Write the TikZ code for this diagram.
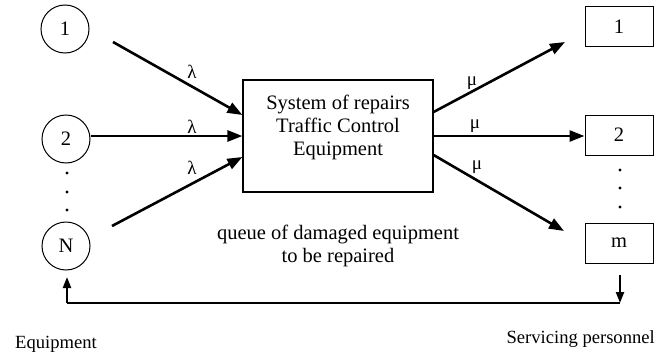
\documentclass[tikz,border=0pt]{standalone}
\usepackage{fontspec}
\setmainfont{Liberation Serif}
\usetikzlibrary{arrows.meta}
\begin{document}
\begin{tikzpicture}[x=1pt,y=-1pt,
  font=\fontsize{20.5}{23}\selectfont,
  source/.style={draw,circle,line width=1pt,minimum size=48pt,inner sep=0pt},
  server/.style={draw,rectangle,line width=1pt,minimum width=68pt,minimum height=40pt,inner sep=0pt},
  system/.style={draw,rectangle,line width=1.2pt,minimum width=190pt,minimum height=112pt,inner sep=0pt},
  flow/.style={line width=2.6pt,-{Triangle[length=15pt,width=11pt]}},
  back/.style={line width=1.6pt},
  backtip/.style={line width=2.2pt,-{Triangle[length=11pt,width=8pt]}},
  rate/.style={inner sep=0pt,font=\fontsize{19}{21}\selectfont},
  caption/.style={inner sep=0pt,font=\fontsize{18.6}{21}\selectfont},
  dot/.style={fill=black,circle,inner sep=0pt,minimum size=3.2pt}]
\useasboundingbox (0,0) rectangle (660,353);

% equipment units
\node[source] (c1) at (65,29) {1};
\node[source] (c2) at (66,139) {2};
\node[source] (cN) at (66,246) {N};
\node[dot] (l1) at (67,173) {};
\node[dot] (l2) at (67,192) {};
\node[dot] (l3) at (67,210) {};

% repair system
\node[system] (sys) at (338,136) {};
\node[align=center,inner sep=0pt] (systext) at (338,127)
  {System of repairs\\Traffic Control\\Equipment};
\node[align=center,inner sep=0pt] (queue) at (338,246)
  {queue of damaged equipment\\to be repaired};

% servicing personnel
\node[server] (s1) at (619,27) {1};
\node[server] (s2) at (619,135) {2};
\node[server] (sm) at (619,243) {m};
\node[dot] (r1) at (620,170) {};
\node[dot] (r2) at (620,188) {};
\node[dot] (r3) at (620,207) {};

% incoming failures
\coordinate (a1) at (113,42);
\coordinate (a3) at (112,226);
\draw[flow] (a1) -- (sys.west |- 0,115);
\draw[flow] (c2.east |- 0,136) -- (sys.west |- 0,136);
\draw[flow] (a3) -- (sys.west |- 0,157);
\node[rate] (la1) at (192,72) {λ};
\node[rate] (la2) at (192,127) {λ};
\node[rate] (la3) at (192,168) {λ};

% outgoing service
\coordinate (b1) at (565,42);
\coordinate (b3) at (564,231);
\draw[flow] (sys.east |- 0,112) -- (b1);
\draw[flow] (sys.east |- 0,136) -- (s2.west |- 0,136);
\draw[flow] (sys.east |- 0,155) -- (b3);
\node[rate] (mu1) at (472,83) {μ};
\node[rate] (mu2) at (475,126) {μ};
\node[rate] (mu3) at (477,167) {μ};

% return loop
\coordinate (d0) at (620,275);
\coordinate (d1) at (620,303);
\coordinate (u0) at (67,303);
\coordinate (u1) at (67,277);
\draw[backtip] (d0) -- (d1);
\draw[back] (d1) -- (u0);
\draw[backtip] (u0) -- (u1);

% captions
\node[caption,anchor=base west] (eqlab) at (15,348) {Equipment};
\node[caption,anchor=base east] (splab) at (655,343) {Servicing personnel};
\end{tikzpicture}
\end{document}
